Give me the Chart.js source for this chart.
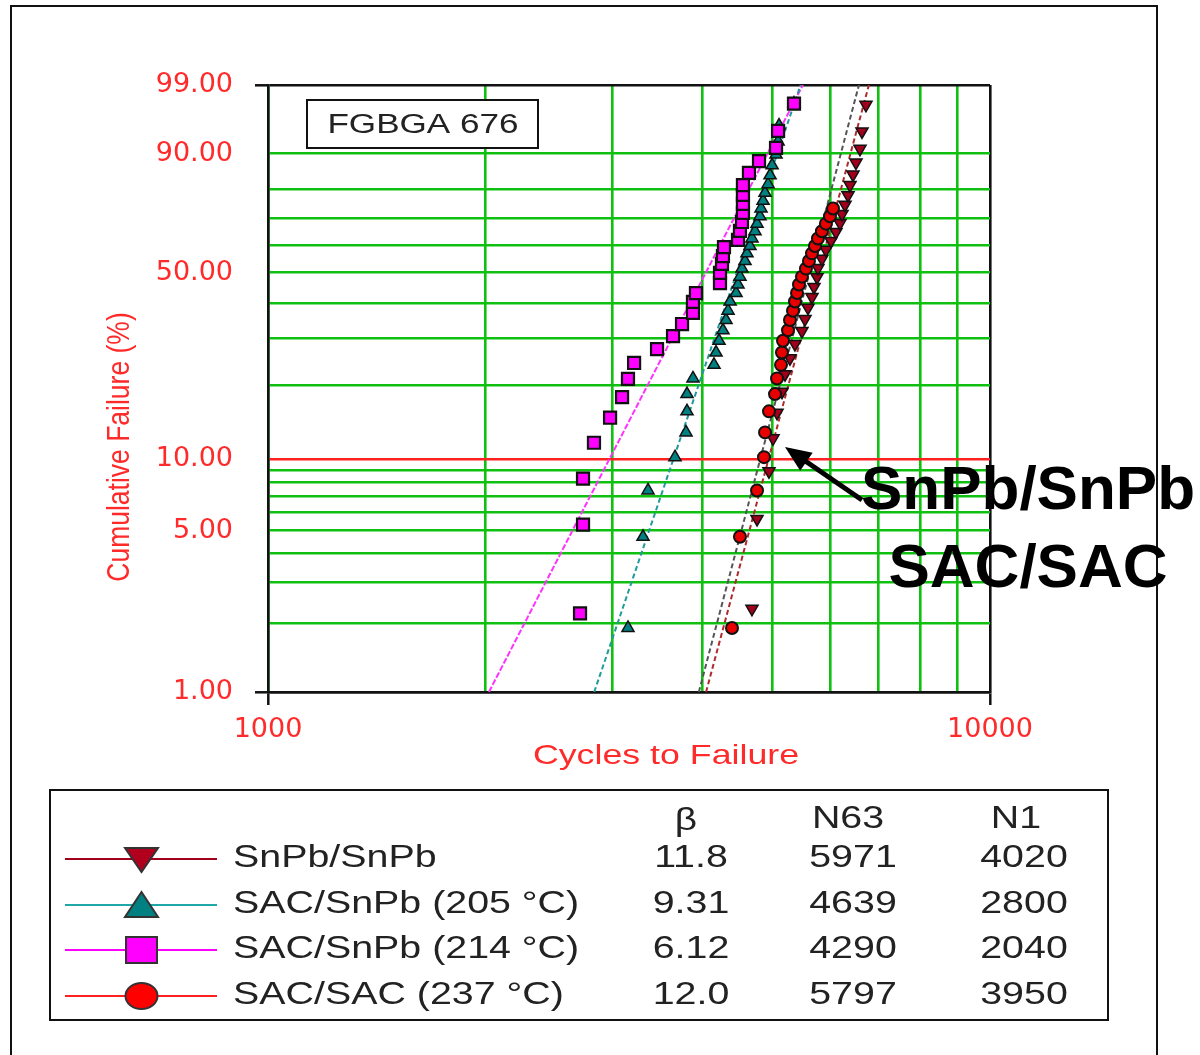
<!DOCTYPE html>
<html>
<head>
<meta charset="utf-8">
<script src="https://cdn.jsdelivr.net/npm/chart.js@4.4.0/dist/chart.umd.min.js"></script>
<style>
html,body{margin:0;padding:0;background:#fff;}
#wrap{position:relative;width:1200px;height:1055px;}
</style>
</head>
<body>
<div id="wrap"><canvas id="c"></canvas></div>
<script>
// ---------------- data ----------------
const seriesNames = ['SnPb/SnPb', 'SAC/SnPb (205 °C)', 'SAC/SnPb (214 °C)', 'SAC/SAC (237 °C)'];
const betaLabels = ['11.8', '9.31', '6.12', '12.0'];
const betaVals = [11.8, 9.31, 6.12, 12.0];
const n63Vals = [5971, 4639, 4290, 5797];
const n1Vals = [4020, 2800, 2040, 3950];

// SnPb/SnPb (down triangles)
const snpbCycles = [4681,4757,4942,5006,5070,5151,5201,5284,5369,5490,5543,5596,5668,5704,5759,5777,5851,5926,6022,6119,6198,6238,6298,6358,6399,6460,6522,6606,6648,6733];
const snpbPct    = [2.3,5.6,8.9,12.2,15.5,18.8,22.0,25.3,28.6,31.9,35.2,38.5,41.8,45.1,48.4,51.6,54.9,58.2,61.5,64.8,68.1,71.4,74.7,78.0,81.3,84.5,87.8,91.1,94.4,97.7];

// SAC/SnPb (205 °C) (up triangles)
const sac205Cycles = [3152,3307,3360,3662,3793,3805,3805,3878,4147,4174,4214,4267,4309,4337,4365,4449,4477,4505,4534,4578,4607,4651,4681,4726,4757,4802,4818,4849,4880,4927,4959,4991,5054,5087,5103,5352];
const sac205Pct    = [1.9,4.7,7.4,10.2,12.9,15.7,18.4,21.2,23.9,26.6,29.4,32.1,34.9,37.6,40.4,43.1,45.9,48.6,51.4,54.1,56.9,59.6,62.4,65.1,67.9,70.6,73.4,76.1,78.8,81.6,84.3,87.1,89.8,92.6,95.3,97.8];

// SAC/SnPb (214 °C) (squares)
const sac214Cycles = [2705,2731,2731,2828,2977,3093,3152,3214,3458,3639,3745,3878,3878,3915,4227,4227,4254,4267,4281,4477,4505,4534,4548,4548,4548,4548,4636,4787,5054,5087,5352];
const sac214Pct    = [2.2,5.3,8.3,11.7,14.8,17.9,21.1,24.3,27.4,30.6,33.8,37.0,40.3,43.1,46.4,49.9,53.1,55.9,59.2,61.9,65.2,68.5,71.8,75.0,78.1,81.3,85.0,88.2,91.3,94.5,97.8];

// SAC/SAC (237 °C) (circles)
const sacsacCycles = [4392,4505,4757,4864,4880,4942,5038,5070,5135,5151,5168,5251,5284,5335,5369,5404,5438,5490,5560,5614,5668,5722,5777,5851,5926,6003,6061];
const sacsacPct    = [1.9,4.7,7.4,10.2,12.9,15.7,18.4,21.2,23.9,26.6,29.4,32.1,34.9,37.6,40.4,43.1,45.9,48.6,51.4,54.1,56.9,59.6,62.4,65.1,67.9,70.6,73.4];

// axis ticks
const yGridPct  = [1,2,3,4,5,6,7,8,9,10,20,30,40,50,60,70,80,90,99];
const yLabelPct = [1,5,10,50,90,99];
const xGridVals = [1000,2000,3000,4000,5000,6000,7000,8000,9000,10000];
const xLabelVals = [1000,10000];

// ---------------- helpers ----------------
const wb = p => Math.log(-Math.log(1 - p / 100));           // Weibull probability transform
const pts = (xs, ps) => xs.map((x, i) => ({x: x, y: wb(ps[i])}));
const fitLine = (beta, eta) => [1, 99].map(p => ({x: eta * Math.pow(-Math.log(1 - p / 100), 1 / beta), y: wb(p)}));

const FONT = "'Liberation Sans', Arial, Helvetica, sans-serif";
const RED_TXT = '#ff2a2a';
const GREEN = '#10c010';

const cSnPb = '#a0001c', cTeal = '#008080', cMag = '#ff00ff', cRed = '#e80000';

function sText(ctx, txt, x, y, size, color, align, sx, weight) {
  ctx.save();
  ctx.font = (weight || 'normal') + ' ' + size + 'px ' + FONT;
  ctx.fillStyle = color;
  ctx.textBaseline = 'middle';
  ctx.textAlign = align;
  ctx.translate(x, y);
  ctx.scale(sx, 1);
  ctx.fillText(txt, 0, 0);
  ctx.restore();
}

const decor = {
  id: 'decor',
  afterDraw(chart) {
    const ctx = chart.ctx;
    ctx.save();
    // outer frame
    ctx.strokeStyle = '#111'; ctx.lineWidth = 2;
    ctx.beginPath(); ctx.moveTo(11, 1056); ctx.lineTo(11, 6); ctx.lineTo(1157, 6); ctx.lineTo(1157, 1056); ctx.stroke();

    // FGBGA box
    ctx.fillStyle = '#fff';
    ctx.fillRect(307, 100, 231, 48);
    ctx.strokeStyle = '#111'; ctx.lineWidth = 2;
    ctx.strokeRect(307, 100, 231, 48);
    sText(ctx, 'FGBGA 676', 423, 126, 27, '#222', 'center', 1.3);

    // axis titles
    sText(ctx, 'Cycles to Failure', 666, 756, 27.5, RED_TXT, 'center', 1.3);
    ctx.save();
    ctx.translate(120, 447);
    ctx.rotate(-Math.PI / 2);
    ctx.scale(1, 1.2);
    ctx.font = '26.5px ' + FONT;
    ctx.fillStyle = RED_TXT; ctx.textAlign = 'center'; ctx.textBaseline = 'middle';
    ctx.fillText('Cumulative Failure (%)', 0, 0);
    ctx.restore();

    // annotation
    sText(ctx, 'SnPb/SnPb', 1028, 492, 62, '#000', 'center', 1.0, 'bold');
    sText(ctx, 'SAC/SAC', 1028, 570, 62, '#000', 'center', 1.0, 'bold');
    // arrow
    const tx = 785, ty = 447, fx = 862, fy = 500;
    const ang = Math.atan2(ty - fy, tx - fx);
    ctx.strokeStyle = '#000'; ctx.fillStyle = '#000'; ctx.lineWidth = 5;
    ctx.beginPath(); ctx.moveTo(fx, fy); ctx.lineTo(tx - 18 * Math.cos(ang), ty - 18 * Math.sin(ang)); ctx.stroke();
    ctx.beginPath();
    ctx.moveTo(tx, ty);
    ctx.lineTo(tx - 26 * Math.cos(ang) + 11 * Math.sin(ang), ty - 26 * Math.sin(ang) - 11 * Math.cos(ang));
    ctx.lineTo(tx - 26 * Math.cos(ang) - 11 * Math.sin(ang), ty - 26 * Math.sin(ang) + 11 * Math.cos(ang));
    ctx.closePath(); ctx.fill();

    // legend box
    ctx.strokeStyle = '#111'; ctx.lineWidth = 2;
    ctx.strokeRect(50, 790, 1058, 230);
    const txtCol = '#222';
    sText(ctx, 'β', 686, 821, 31, txtCol, 'center', 1.25);
    sText(ctx, 'N63', 848, 819, 31, txtCol, 'center', 1.27);
    sText(ctx, 'N1', 1016, 819, 31, txtCol, 'center', 1.27);
    const rowsY = [859, 905, 950, 996];
    const lineCols = [cSnPb, '#20a8a8', cMag, '#ff2020'];
    rowsY.forEach((y, i) => {
      ctx.strokeStyle = lineCols[i]; ctx.lineWidth = 2;
      ctx.beginPath(); ctx.moveTo(65, y); ctx.lineTo(217, y); ctx.stroke();
      ctx.lineWidth = 2; ctx.strokeStyle = '#333';
      ctx.beginPath();
      if (i === 0) {
        ctx.moveTo(125, y - 11); ctx.lineTo(158, y - 11); ctx.lineTo(141.5, y + 13); ctx.closePath();
        ctx.fillStyle = '#b0001e';
      } else if (i === 1) {
        ctx.moveTo(125, y + 12); ctx.lineTo(158, y + 12); ctx.lineTo(141.5, y - 13); ctx.closePath();
        ctx.fillStyle = cTeal;
      } else if (i === 2) {
        ctx.rect(126, y - 13, 31, 26);
        ctx.fillStyle = cMag;
      } else {
        ctx.ellipse(141.5, y, 16, 13, 0, 0, Math.PI * 2);
        ctx.fillStyle = '#ff0000';
      }
      ctx.fill(); ctx.stroke();
      const ty2 = y - 1;
      sText(ctx, seriesNames[i], 233, ty2, 31, txtCol, 'left', 1.27);
      sText(ctx, betaLabels[i], 691, ty2, 31, txtCol, 'center', 1.27);
      sText(ctx, String(n63Vals[i]), 853, ty2, 31, txtCol, 'center', 1.27);
      sText(ctx, String(n1Vals[i]), 1024, ty2, 31, txtCol, 'center', 1.27);
    });
    ctx.restore();
  }
};

new Chart(document.getElementById('c'), {
  type: 'scatter',
  data: {
    datasets: [
      {label: 'SnPb fit', data: fitLine(betaVals[0], n63Vals[0]), showLine: true, borderColor: '#b02a2a', borderWidth: 2, borderDash: [5, 3], pointRadius: 0, order: 10},
      {label: 'SAC205 fit', data: fitLine(betaVals[1], n63Vals[1]), showLine: true, borderColor: '#209a9a', borderWidth: 2, borderDash: [5, 3], pointRadius: 0, order: 10},
      {label: 'SAC214 fit', data: fitLine(betaVals[2], n63Vals[2]), showLine: true, borderColor: '#ff33ff', borderWidth: 2, borderDash: [6, 2], pointRadius: 0, order: 10},
      {label: 'SACSAC fit', data: fitLine(betaVals[3], n63Vals[3]), showLine: true, borderColor: '#555555', borderWidth: 2, borderDash: [5, 3], pointRadius: 0, order: 10},
      {label: seriesNames[0], data: pts(snpbCycles, snpbPct), pointStyle: 'triangle', rotation: 180, pointRadius: 7, backgroundColor: cSnPb, borderColor: '#111', borderWidth: 1.5, order: 5},
      {label: seriesNames[1], data: pts(sac205Cycles, sac205Pct), pointStyle: 'triangle', pointRadius: 7, backgroundColor: cTeal, borderColor: '#111', borderWidth: 1.5, order: 4},
      {label: seriesNames[2], data: pts(sac214Cycles, sac214Pct), pointStyle: 'rect', pointRadius: 8.5, backgroundColor: cMag, borderColor: '#111', borderWidth: 2.2, order: 3},
      {label: seriesNames[3], data: pts(sacsacCycles, sacsacPct), pointStyle: 'circle', pointRadius: 6, backgroundColor: cRed, borderColor: '#111', borderWidth: 2, order: 2}
    ]
  },
  options: {
    responsive: true,
    maintainAspectRatio: false,
    animation: false,
    events: [],
    layout: {padding: {left: 0, top: 85, right: 210, bottom: 303}},
    plugins: {legend: {display: false}, tooltip: {enabled: false}},
    scales: {
      x: {
        type: 'logarithmic',
        min: 1000, max: 10000,
        afterBuildTicks: s => { s.ticks = xGridVals.map(v => ({value: v})); },
        afterFit: s => { s.height = 60; },
        ticks: {
          autoSkip: false, maxRotation: 0, padding: 9,
          color: RED_TXT,
          font: {family: "'DejaVu Sans', sans-serif", size: 27},
          callback: (v) => xLabelVals.includes(v) ? String(v) : ''
        },
        grid: {
          color: c => (c.index === xGridVals.length - 1 ? '#111' : GREEN),
          lineWidth: 2.6,
          tickLength: 13,
          tickColor: c => (xLabelVals.includes(xGridVals[c.index]) ? '#111' : 'rgba(0,0,0,0)'),
          tickWidth: 2.5
        },
        border: {display: true, color: '#111', width: 2.6}
      },
      y: {
        type: 'linear',
        min: wb(1), max: wb(99),
        afterBuildTicks: s => { s.ticks = yGridPct.map(p => ({value: wb(p)})); },
        afterFit: s => { s.width = 268; },
        ticks: {
          autoSkip: false, padding: 22,
          color: RED_TXT,
          font: {family: "'DejaVu Sans', sans-serif", size: 27},
          callback: (v, i) => yLabelPct.includes(yGridPct[i]) ? yGridPct[i].toFixed(2) : ''
        },
        grid: {
          color: c => {
            const p = yGridPct[c.index];
            if (p === 99 || p === 1) return '#111';
            if (p === 10) return '#ff2020';
            return GREEN;
          },
          lineWidth: 2.6,
          tickLength: 13,
          tickColor: c => ((yGridPct[c.index] === 1 || yGridPct[c.index] === 99) ? '#111' : 'rgba(0,0,0,0)'),
          tickWidth: 2.5
        },
        border: {display: true, color: '#111', width: 2.6}
      }
    }
  },
  plugins: [decor]
});
</script>
</body>
</html>
